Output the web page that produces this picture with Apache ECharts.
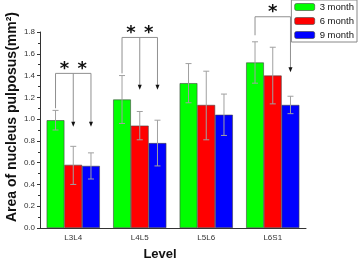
<!DOCTYPE html>
<html>
<head>
<meta charset="utf-8">
<script src="https://cdn.jsdelivr.net/npm/echarts@6/dist/echarts.min.js"></script>
<style>
html, body { margin: 0; padding: 0; background: #fff; }
#chart { width: 358px; height: 258px; }
</style>
</head>
<body>
<div id="chart"></div>
<script>
var levels = ['L3L4', 'L4L5', 'L5L6', 'L6S1'];
var seriesNames = ['3 month', '6 month', '9 month'];
var colors = ['#00ff00', '#ff0000', '#0000ff'];

// mean values
var m3 = [0.99, 1.18, 1.33, 1.52];
var m6 = [0.58, 0.94, 1.13, 1.40];
var m9 = [0.57, 0.78, 1.04, 1.13];
// error bar ends (low, high)
var lo3 = [0.90, 0.96, 1.15, 1.33];
var hi3 = [1.08, 1.40, 1.51, 1.71];
var lo6 = [0.40, 0.81, 0.81, 1.14];
var hi6 = [0.75, 1.07, 1.44, 1.66];
var lo9 = [0.45, 0.57, 0.85, 1.05];
var hi9 = [0.69, 0.99, 1.23, 1.21];

// significance brackets
var sigCats = [0, 1, 3];
var sigLevel = [1.42, 1.75, 1.94];
var sigStart = [1.10, 1.42, 1.77];
var sigEnd = [2, 2, 2];
var sigArrows = [[[1, 0.93], [2, 0.93]], [[1, 1.27], [2, 1.27]], [[2, 1.43]]];
var sigStars = [[0.5, 1.5], [0.5, 1.5], [1]];

var chart = echarts.init(document.getElementById('chart'));

var means = [m3, m6, m9];
var lows = [lo3, lo6, lo9];
var highs = [hi3, hi6, hi9];

var errData = [];
for (var s = 0; s < 3; s++) {
    for (var i = 0; i < levels.length; i++) {
        errData.push([i, s, lows[s][i], highs[s][i]]);
    }
}

function barX(api, cat, s) {
    var band = api.size([1, 0])[0];
    var bw = band * 0.8 / 3;
    return api.coord([cat, 0])[0] + (s - 1) * bw;
}

function renderError(params, api) {
    var cat = api.value(0), s = api.value(1);
    var x = barX(api, cat, s);
    var yl = api.coord([cat, api.value(2)])[1];
    var yh = api.coord([cat, api.value(3)])[1];
    var st = { stroke: '#a0a0a0', lineWidth: 1 };
    return {
        type: 'group',
        children: [
            { type: 'line', shape: { x1: x, y1: yl, x2: x, y2: yh }, style: st },
            { type: 'line', shape: { x1: x - 3, y1: yh, x2: x + 3, y2: yh }, style: st },
            { type: 'line', shape: { x1: x - 3, y1: yl, x2: x + 3, y2: yl }, style: st }
        ]
    };
}

function renderSig(params, api) {
    var k = api.value(0);
    var cat = sigCats[k];
    var yb = api.coord([cat, sigLevel[k]])[1];
    var y0 = api.coord([cat, sigStart[k]])[1];
    var xl = barX(api, cat, 0);
    var xr = barX(api, cat, sigEnd[k]);
    var st = { stroke: '#909090', lineWidth: 1 };
    var kids = [
        { type: 'line', shape: { x1: xl, y1: y0, x2: xl, y2: yb }, style: st },
        { type: 'line', shape: { x1: xl, y1: yb, x2: xr, y2: yb }, style: st }
    ];
    sigArrows[k].forEach(function (a) {
        var x = barX(api, cat, a[0]);
        var yt = api.coord([cat, a[1]])[1];
        kids.push({ type: 'line', shape: { x1: x, y1: yb, x2: x, y2: yt - 4 }, style: st });
        kids.push({ type: 'polygon', shape: { points: [[x - 2, yt - 5], [x + 2, yt - 5], [x, yt]] }, style: { fill: '#111' } });
    });
    sigStars[k].forEach(function (p) {
        var x = barX(api, cat, p);
        kids.push({
            type: 'text',
            style: { x: x, y: yb - 4, text: '*', fill: '#111', font: 'bold 18px DejaVu Sans', align: 'center', verticalAlign: 'middle' }
        });
    });
    return { type: 'group', children: kids };
}

var series = [];
for (var s = 0; s < 3; s++) {
    series.push({
        name: seriesNames[s],
        type: 'bar',
        data: means[s],
        barGap: 0,
        barCategoryGap: '20%',
        itemStyle: { color: colors[s], borderColor: '#444', borderWidth: 0.6 },
        emphasis: { disabled: true }
    });
}
series.push({
    type: 'custom',
    renderItem: renderError,
    data: errData,
    z: 5,
    silent: true
});
series.push({
    type: 'custom',
    renderItem: renderSig,
    data: sigCats.map(function (c, k) { return [k]; }),
    z: 6,
    silent: true,
    clip: false
});

var option = {
    animation: false,
    backgroundColor: '#fff',
    grid: { left: 40, right: 52, top: 32, bottom: 30, outerBoundsMode: 'none', containLabel: false },
    graphic: [{
        type: 'text',
        x: 12,
        y: 117,
        rotation: Math.PI / 2,
        style: {
            text: 'Area of nucleus pulposus(mm²)',
            font: 'bold 14px Liberation Sans',
            fill: '#111',
            align: 'center',
            verticalAlign: 'middle'
        }
    }],
    legend: {
        data: seriesNames,
        orient: 'vertical',
        right: 1,
        top: 0,
        itemWidth: 20,
        itemHeight: 7,
        itemGap: 4,
        padding: [2, 3, 2, 3],
        borderColor: '#888',
        borderWidth: 1,
        textStyle: { fontSize: 9.5, color: '#111', fontFamily: 'Liberation Sans' },
        itemStyle: { borderColor: '#444', borderWidth: 0.6 }
    },
    xAxis: [{
        type: 'category',
        data: levels,
        name: 'Level',
        nameLocation: 'middle',
        nameGap: 20,
        nameTextStyle: { fontSize: 13, fontWeight: 'bold', color: '#111', fontFamily: 'Liberation Sans', padding: [0, 26, 0, 0] },
        axisLine: { lineStyle: { color: '#333' } },
        axisTick: { alignWithLabel: true, length: 3, lineStyle: { color: '#333' } },
        axisLabel: { fontSize: 8, color: '#333', margin: 6 }
    }, {
        type: 'category',
        data: levels,
        position: 'bottom',
        axisLine: { show: false },
        axisTick: { length: 2, lineStyle: { color: '#333' } },
        axisLabel: { show: false }
    }],
    yAxis: {
        type: 'value',
        min: 0,
        max: 1.8,
        interval: 0.2,
        axisLine: { show: true, lineStyle: { color: '#333' } },
        axisTick: { show: true, length: 3, lineStyle: { color: '#333' } },
        minorTick: { show: true, splitNumber: 2, length: 2, lineStyle: { color: '#333' } },
        splitLine: { show: false },
        axisLabel: {
            fontSize: 8, color: '#333', margin: 5,
            formatter: function (v) { return v.toFixed(1); }
        }
    },
    series: series
};

chart.setOption(option);
</script>
</body>
</html>
